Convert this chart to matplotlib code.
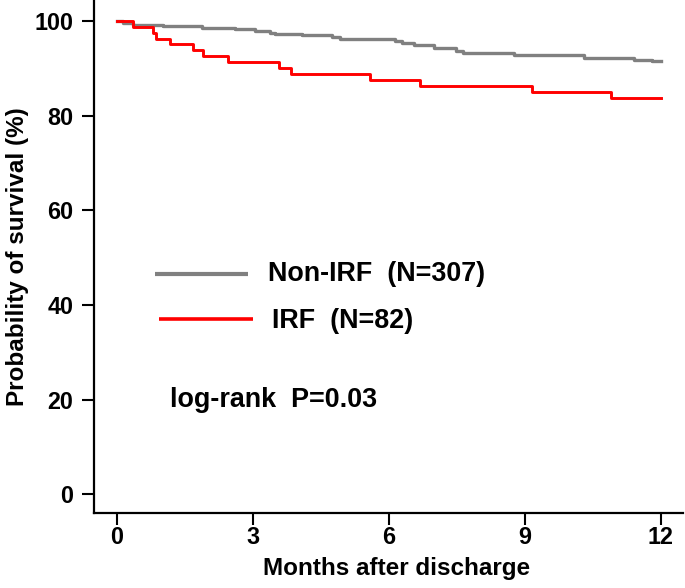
import matplotlib
matplotlib.use("Agg")
import matplotlib.pyplot as plt

plt.rcParams['font.family'] = ['Liberation Sans', 'DejaVu Sans']
plt.rcParams['font.weight'] = 'bold'

# Non-IRF survival (months, %)
nonirf_t = [0, 0.14, 0.36, 1.02, 1.87, 2.6, 3.05, 3.38, 3.49, 4.08, 4.74, 4.92, 6.14, 6.29, 6.56, 7.0, 7.48, 7.64, 8.76, 10.3, 11.4, 11.8, 12.0]
nonirf_s = [100, 99.7, 99.3, 99.0, 98.6, 98.3, 97.95, 97.6, 97.3, 97.0, 96.6, 96.3, 95.9, 95.4, 94.9, 94.3, 93.7, 93.3, 92.9, 92.3, 91.8, 91.5, 91.5]
# IRF survival
irf_t = [0, 0.36, 0.80, 0.86, 1.17, 1.67, 1.89, 2.46, 3.58, 3.83, 5.58, 6.69, 9.16, 10.9, 12.0]
irf_s = [100, 98.8, 97.6, 96.3, 95.2, 93.9, 92.6, 91.4, 90.2, 88.9, 87.6, 86.3, 85.0, 83.8, 83.8]

xticks = [0, 3, 6, 9, 12]
yticks = [0, 20, 40, 60, 80, 100]

fig = plt.figure(figsize=(6.85, 5.88), dpi=100)
ax = fig.add_axes([0.1372, 0.1276, 0.86, 0.8724])

ax.step(nonirf_t, nonirf_s, where='post', color='#808080', lw=2.4)
ax.step(irf_t, irf_s, where='post', color='#ff0000', lw=2.1)

ax.set_xlim(-0.507, 12.49)
ax.set_ylim(-4.0, 104.5)
ax.set_xticks(xticks)
ax.set_yticks(yticks)
ax.tick_params(axis='both', length=8.3, width=1.5, labelsize=16.8)
ax.tick_params(axis='x', pad=1)
ax.tick_params(axis='y', pad=6.5)
for lab in ax.get_xticklabels() + ax.get_yticklabels():
    lab.set_fontweight('bold')
for s in ['top', 'right']:
    ax.spines[s].set_visible(False)
for s in ['left', 'bottom']:
    ax.spines[s].set_linewidth(1.6)

ax.set_xlabel('Months after discharge', fontsize=17.5, fontweight='bold')
ax.xaxis.set_label_coords(0.514, -0.085)
ax.set_ylabel('Probability of survival (%)', fontsize=17.5, fontweight='bold')
ax.yaxis.set_label_coords(-0.11, 0.5)

# legend drawn manually
ax.plot([0.84, 2.89], [46.5, 46.5], color='#808080', lw=3.0, solid_capstyle='butt')
ax.plot([0.93, 3.0], [37.0, 37.0], color='#ff0000', lw=2.6, solid_capstyle='butt')
ax.text(3.33, 46.6, 'Non-IRF  (N=307)', fontsize=19.4, fontweight='bold', va='center', ha='left')
ax.text(3.42, 36.6, 'IRF  (N=82)', fontsize=19.4, fontweight='bold', va='center', ha='left')
ax.text(1.17, 18.4, 'log-rank  P=0.03', fontsize=19.4, fontweight='bold', va='baseline', ha='left')

fig.savefig('out.png', dpi=100)
